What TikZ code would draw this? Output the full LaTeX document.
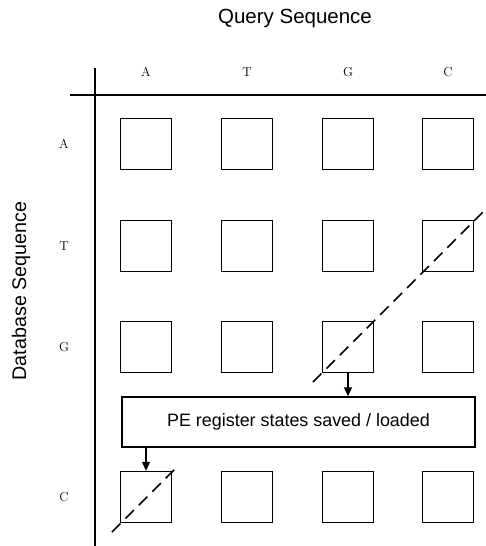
\documentclass[tikz,border=0pt]{standalone}
\usepackage{fontspec}
\newfontfamily\labelfont{Liberation Sans}
\usetikzlibrary{arrows.meta}

\tikzset{
  pebox/.style={draw=black, line width=1.4pt, minimum width=51pt, minimum height=51pt, inner sep=0pt},
  seqletter/.style={font=\fontsize{13}{13}\selectfont},
  axisline/.style={line width=1.1pt},
  diagline/.style={line width=1.5pt, dash pattern=on 12pt off 7pt},
  flowarrow/.style={line width=1.1pt, -{Triangle[length=9pt, width=8pt]}}
}

\begin{document}
\begin{tikzpicture}[x=1pt, y=-1pt]
	\useasboundingbox (0,0) rectangle (486,546);

	% 1. axis titles
	\node[font=\labelfont\fontsize{20.5}{20.5}\selectfont] (qtitle) at (295,18) {Query Sequence};
	\node[font=\labelfont\fontsize{19.7}{19.7}\selectfont, rotate=90] (dtitle) at (21,291) {Database Sequence};

	% 2. axes
	\coordinate (hl) at (70,95);
	\coordinate (hr) at (486,95);
	\coordinate (vt) at (95,68);
	\coordinate (vb) at (95,546);
	\draw[axisline] (hl) -- (hr);
	\draw[axisline] (vt) -- (vb);

	% 3. query letters (columns) and database letters (rows)
	\foreach \ch/\x [count=\i] in {A/146, T/247, G/348, C/448}
		\node[seqletter] (q\i) at (\x,72) {\ch};
	\foreach \ch/\y [count=\j] in {A/144, T/246, G/347, C/497}
		\node[seqletter] (d\j) at (64,\y) {\ch};

	% 4. processing elements
	\foreach \x [count=\i] in {146, 247, 348, 448}
		\foreach \y [count=\j] in {144, 246, 347, 497}
			\node[pebox] (b\i\j) at (\x,\y) {};

	% 5. register state buffer
	\node[draw=black, line width=1.4pt, minimum width=353pt, minimum height=50pt, inner sep=0pt,
		font=\labelfont\fontsize{17.9}{17.9}\selectfont] (regs) at (298.5,422) {PE register states saved / loaded};

	% 6. save / load arrows
	\draw[flowarrow] (b33.south) -- (b33.south |- regs.north);
	\draw[flowarrow] (regs.south -| b14.north) -- (b14.north);

	% 7. anti-diagonal wavefronts
	\coordinate (w1s) at (313,382);
	\coordinate (w1e) at (486,209);
	\coordinate (w2s) at (112,532);
	\coordinate (w2e) at (179,465);
	\draw[diagline] (w1s) -- (w1e);
	\draw[diagline] (w2s) -- (w2e);
\end{tikzpicture}
\end{document}
